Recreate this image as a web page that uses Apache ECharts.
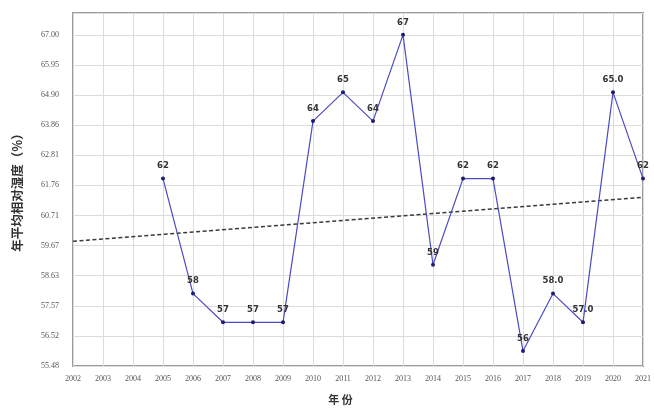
<!DOCTYPE html>
<html><head><meta charset="utf-8">
<script src="https://cdn.jsdelivr.net/npm/echarts@6/dist/echarts.min.js"></script>
<style>html,body{margin:0;padding:0;background:#fff}#c{width:654px;height:410px}</style>
</head><body><div id="c"></div>
<script>
const years = [2005,2006,2007,2008,2009,2010,2011,2012,2013,2014,2015,2016,2017,2018,2019,2020,2021];
const humidity = [62,58,57,57,57,64,65,64,67,59,62,62,56,58,57,65,62];
const pointLabels = ['62','58','57','57','57','64','65','64','67','59','62','62','56','58.0','57.0','65.0','62'];
const trendYears = [2002, 2021];
const trendValues = [59.82, 61.35];
const yTickLabels = ['55.48','56.52','57.57','58.63','59.67','60.71','61.76','62.81','63.86','64.90','65.95','67.00'];
const xTickMin = 2002, xTickMax = 2021;

const yMin = 55.48, yTop = 67.00;
const yInterval = (yTop - yMin) / (yTickLabels.length - 1);
const chart = echarts.init(document.getElementById('c'), null, {renderer:'canvas'});
chart.setOption({
  animation:false,
  backgroundColor:'#fff',
  grid:{left:73,right:11,top:13,bottom:43,show:true,borderColor:'#9a9a9a',borderWidth:2,containLabel:false},
  xAxis:{type:'value',min:xTickMin,max:xTickMax,interval:1,
    name:'年 份',nameLocation:'middle',nameGap:28,
    nameTextStyle:{fontFamily:'Noto Sans CJK SC',fontWeight:'bold',fontSize:11,color:'#333',padding:[0,35,0,0]},
    axisLine:{show:false},axisTick:{show:false},
    axisLabel:{fontFamily:'Liberation Serif',fontSize:8,color:'#555',margin:9,formatter:v=>String(v)},
    splitLine:{show:true,lineStyle:{color:'#dcdcdc',width:1}}},
  yAxis:{type:'value',min:yMin,max:67.76,interval:yInterval,
    name:'年平均相对湿度（%）',nameLocation:'middle',nameGap:49,nameRotate:90,
    nameTextStyle:{fontFamily:'Noto Sans CJK SC',fontWeight:'bold',fontSize:12.5,color:'#333'},
    axisLine:{show:false},axisTick:{show:false},
    axisLabel:{fontFamily:'Liberation Serif',fontSize:8,color:'#555',margin:14,
      formatter:function(v){const i=Math.round((v-yMin)/yInterval);return (Math.abs(v-(yMin+i*yInterval))<1e-6 && yTickLabels[i])?yTickLabels[i]:'';}},
    splitLine:{show:true,lineStyle:{color:'#dcdcdc',width:1}}},
  series:[
    {type:'line',data:trendYears.map((x,i)=>[x,trendValues[i]]),symbol:'none',
     lineStyle:{color:'#3a3a3a',width:1.6,type:[4,2.5]},z:2,silent:true},
    {type:'line',data:years.map((x,i)=>[x,humidity[i]]),symbol:'circle',symbolSize:4,
     lineStyle:{color:'#4b4bc4',width:1.2},itemStyle:{color:'#1c1c70'},z:3,
     label:{show:true,position:'top',distance:6,fontFamily:'DejaVu Sans',fontSize:8.5,fontWeight:'bold',color:'#333',
       formatter:p=>pointLabels[p.dataIndex]}}
  ]
});
</script></body></html>
